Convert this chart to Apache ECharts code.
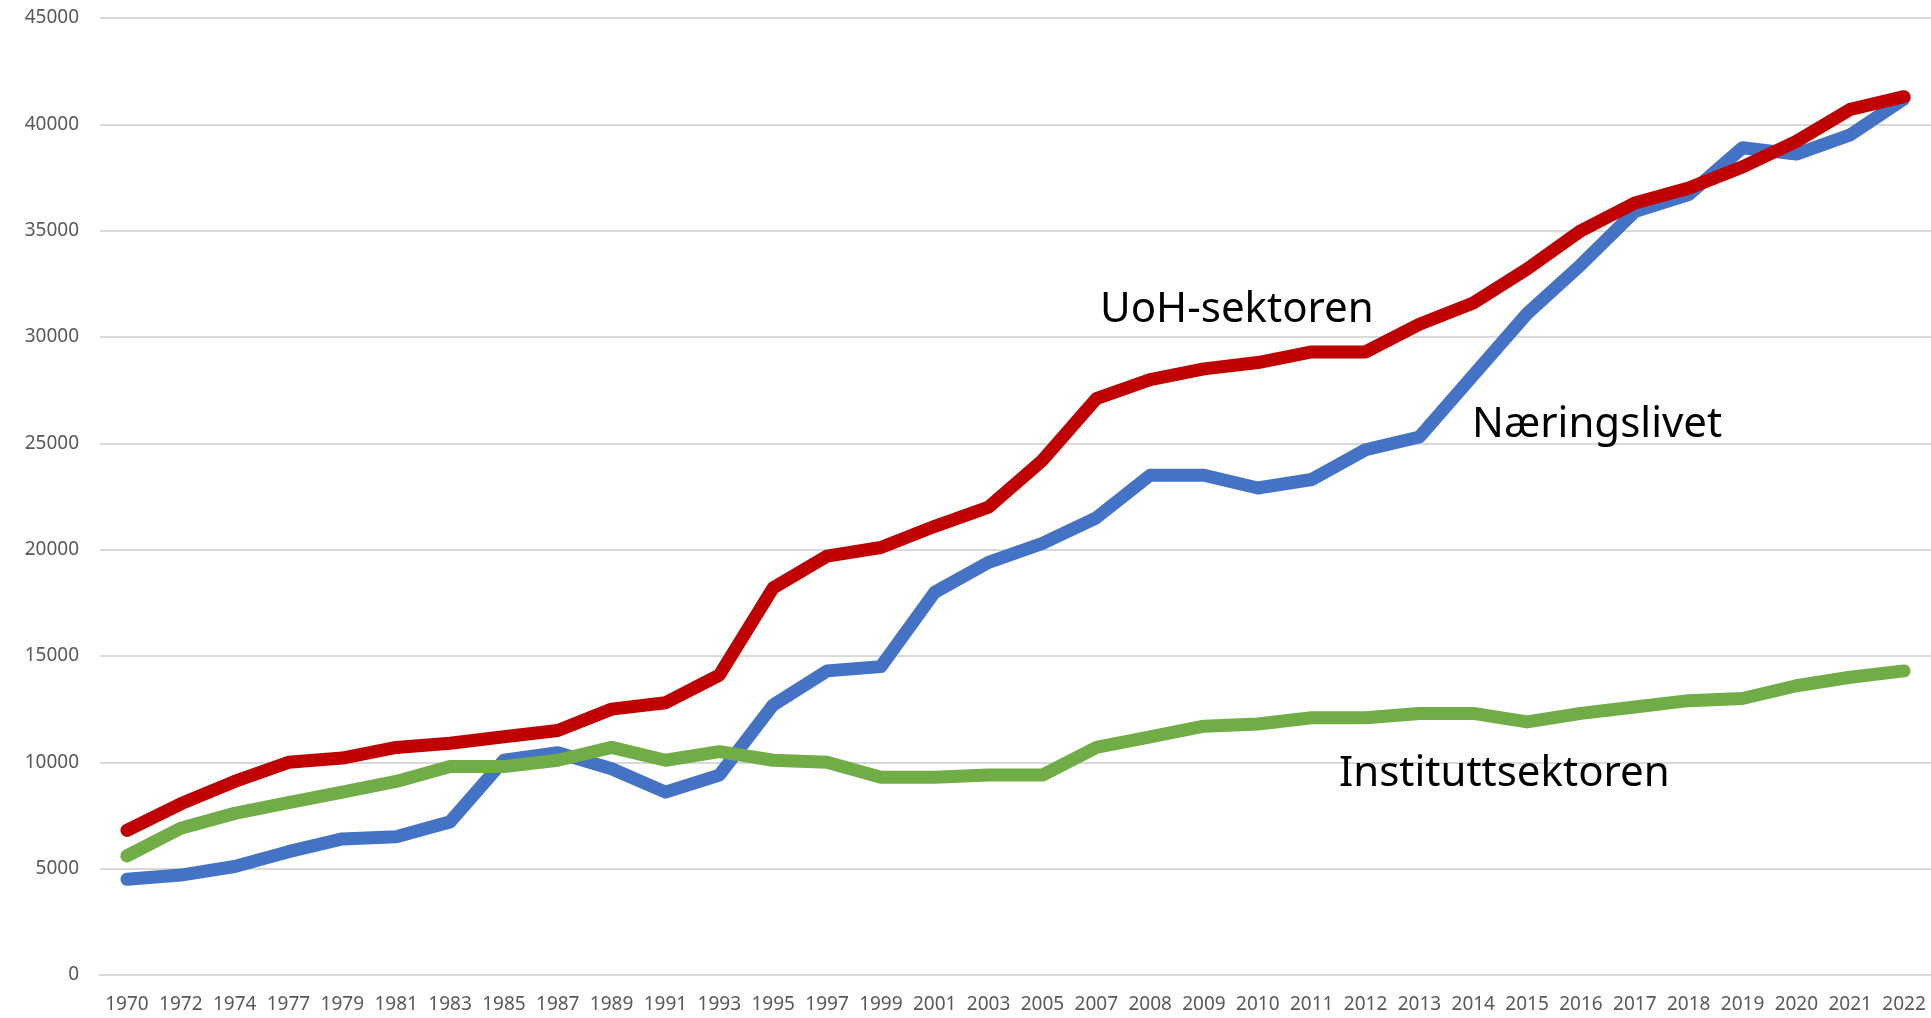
<!DOCTYPE html>
<html>
<head>
<meta charset="utf-8">
<script src="https://cdn.jsdelivr.net/npm/echarts@6/dist/echarts.min.js"></script>
<style>
  html, body { margin: 0; padding: 0; background: #fff; }
  #main { width: 1931px; height: 1018px; }
</style>
</head>
<body>
<div id="main"></div>
<script>
var years = ['1970','1972','1974','1977','1979','1981','1983','1985','1987','1989','1991','1993','1995','1997','1999','2001','2003','2005','2007','2008','2009','2010','2011','2012','2013','2014','2015','2016','2017','2018','2019','2020','2021','2022'];

var naeringslivet = [4500,4700,5100,5800,6400,6500,7200,10100,10450,9700,8600,9400,12700,14300,14500,18000,19400,20300,21500,23500,23500,22900,23300,24700,25300,28200,31100,33400,35900,36700,38900,38600,39500,41200];
var instituttsektoren = [5600,6900,7600,8100,8600,9100,9800,9800,10100,10700,10100,10500,10100,10000,9300,9300,9400,9400,10700,11200,11700,11800,12100,12100,12300,12300,11900,12300,12600,12900,13000,13600,14000,14300];
var uohSektoren = [6800,8050,9100,10000,10200,10700,10900,11200,11500,12500,12800,14100,18200,19700,20100,21100,22000,24200,27100,28000,28500,28800,29300,29300,30600,31600,33200,35000,36300,37000,38000,39200,40700,41300];

var yTicks = { min: 0, max: 45000, interval: 5000 };

var chart = echarts.init(document.getElementById('main'));

function lineSeries(name, data, color) {
  return {
    name: name,
    type: 'line',
    data: data,
    symbol: 'none',
    smooth: false,
    lineStyle: { color: color, width: 13, cap: 'round', join: 'round' },
    itemStyle: { color: color },
    animation: false
  };
}

var labelFont = { fontFamily: 'Noto Sans', fontSize: 42, fill: '#000' };

var option = {
  backgroundColor: '#fff',
  animation: false,
  grid: { left: 100, right: 0, top: 18, bottom: 43, containLabel: false },
  xAxis: {
    type: 'category',
    data: years,
    boundaryGap: true,
    axisLine: { show: true, lineStyle: { color: '#d9d9d9', width: 2 } },
    axisTick: { show: false },
    axisLabel: { interval: 0, color: '#595959', fontFamily: 'Noto Sans', fontSize: 19, margin: 20 }
  },
  yAxis: {
    type: 'value',
    min: yTicks.min,
    max: yTicks.max,
    interval: yTicks.interval,
    axisLine: { show: false },
    axisTick: { show: false },
    splitLine: { lineStyle: { color: '#d9d9d9', width: 2 } },
    axisLabel: {
      color: '#595959', fontFamily: 'Noto Sans', fontSize: 19, margin: 21,
      formatter: function (v) { return String(v); }
    }
  },
  series: [
    lineSeries('Næringslivet', naeringslivet, '#4472C4'),
    lineSeries('Instituttsektoren', instituttsektoren, '#70AD47'),
    lineSeries('UoH-sektoren', uohSektoren, '#C00000')
  ],
  graphic: [
    { type: 'text', z: 100, left: 1100, top: 289, style: Object.assign({ text: 'UoH-sektoren' }, labelFont) },
    { type: 'text', z: 100, left: 1472, top: 404, style: Object.assign({ text: 'Næringslivet' }, labelFont) },
    { type: 'text', z: 100, left: 1339, top: 753, style: Object.assign({ text: 'Instituttsektoren' }, labelFont) }
  ]
};

chart.setOption(option);
</script>
</body>
</html>
